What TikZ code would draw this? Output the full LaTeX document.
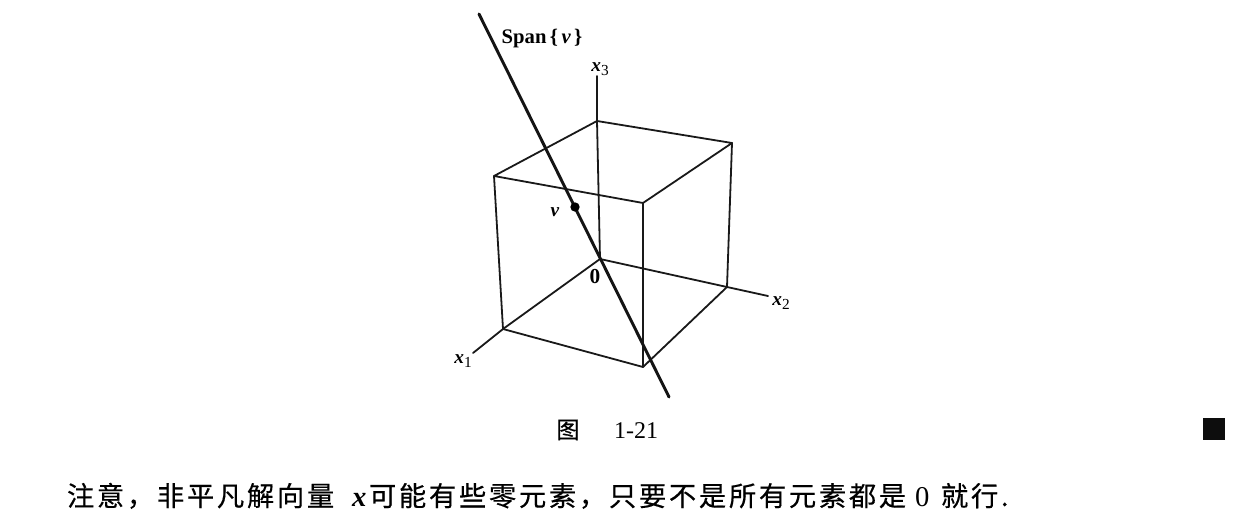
\documentclass[tikz,border=0pt]{standalone}
\usepackage{fontspec}
\setmainfont{Liberation Serif}
\newfontfamily\cjk[LetterSpace=10,FakeBold=0.4]{Noto Sans CJK SC}
\newfontfamily\cjkcap[FakeBold=0.4]{Noto Sans CJK SC}
\newcommand{\bix}[1]{{\bfseries\itshape #1}}
\newcommand{\axl}[2]{\bix{#1}\raisebox{-0.22em}{\fontsize{11.5}{12}\selectfont #2}}
\tikzset{
  edge/.style={line width=1.35pt,black!90,line cap=round,line join=round},
  spanline/.style={line width=2.2pt,black!92,line cap=round},
  lab/.style={inner sep=0pt,outer sep=0pt,font=\fontsize{14.5}{16}\selectfont},
  body/.style={inner sep=0pt,outer sep=0pt,anchor=base west,font=\fontsize{20.45}{22}\selectfont},
  bodylatin/.style={inner sep=0pt,outer sep=0pt,anchor=base west,font=\fontsize{21.5}{23}\selectfont}
}
\begin{document}
\begin{tikzpicture}[x=0.75pt,y=-0.75pt]
\path[use as bounding box,fill=white] (0,0) rectangle (1234,516);
\coordinate (O) at (600,259);
\coordinate (A) at (503,329);
\coordinate (B) at (643,367);
\coordinate (C) at (727,287);
\coordinate (D) at (597,121);
\coordinate (E) at (494,176);
\coordinate (F) at (643,203);
\coordinate (G) at (732,143);
\coordinate (X1) at (473,353);
\coordinate (X2) at (768,296);
\coordinate (X3) at (597,76);
\coordinate (S1) at (479,14);
\coordinate (S2) at (669,397);
\draw[edge] (E) -- (D) -- (G) -- (F) -- cycle;
\draw[edge] (E) -- (A) (F) -- (B) (G) -- (C);
\draw[edge] (A) -- (B) -- (C);
\draw[edge] (X3) -- (D) -- (O);
\draw[edge] (X1) -- (A) -- (O) -- (C) -- (X2);
\draw[spanline] (S1) -- (S2);
\node[circle,fill=black,inner sep=0pt,minimum size=7pt] (V) at (575,207) {};
\node[lab,font=\fontsize{15.5}{17}\selectfont\bfseries] (span) at (542,39) {Span\,\{\,\bix{v}\,\}};
\node[lab] (l3) at (600,69) {\axl{x}{3}};
\node[lab] (lv) at (555,212) {\bix{v}};
\node[lab,font=\fontsize{16}{17}\selectfont\bfseries] (l0) at (595,277) {0};
\node[lab] (l2) at (781,303) {\axl{x}{2}};
\node[lab] (l1) at (463,361) {\axl{x}{1}};
\node[inner sep=0pt,font=\fontsize{17.5}{19}\selectfont\cjkcap] (capa) at (568,430) {图};
\node[inner sep=0pt,font=\fontsize{18}{19}\selectfont] (capb) at (636,431) {1-21};
\node[fill=black!95,minimum width=16.5pt,minimum height=16.5pt,inner sep=0pt] (qed) at (1214,429) {};
\node[body] (t1) at (67,506) {\cjk 注意，非平凡解向量};
\node[bodylatin] (t2) at (352,506) {\bix{x}};
\node[body] (t3) at (369,506) {\cjk 可能有些零元素，只要不是所有元素都是};
\node[bodylatin] (t4) at (915,506) {0};
\node[body] (t5) at (941,506) {\cjk 就行.};
\end{tikzpicture}
\end{document}
